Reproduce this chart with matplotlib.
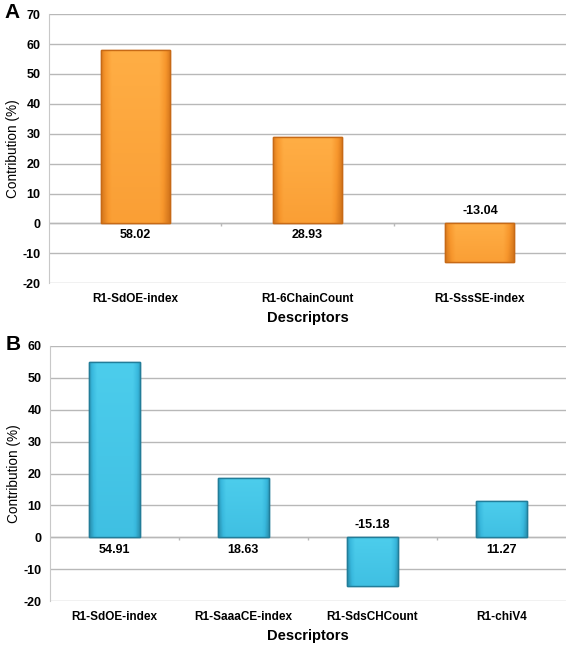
import numpy as np
import matplotlib.pyplot as plt
from matplotlib.colors import LinearSegmentedColormap

plt.rcParams['font.family'] = ['Liberation Sans', 'DejaVu Sans']
plt.rcParams['axes.unicode_minus'] = False

# Panel A data
cats_a = ['R1-SdOE-index', 'R1-6ChainCount', 'R1-SssSE-index']
vals_a = [58.02, 28.93, -13.04]

# Panel B data
cats_b = ['R1-SdOE-index', 'R1-SaaaCE-index', 'R1-SdsCHCount', 'R1-chiV4']
vals_b = [54.91, 18.63, -15.18, 11.27]


def shade(ax, bars, light, mid, dark):
    # soft gradient: darker towards edges and bottom
    cmap = LinearSegmentedColormap.from_list('g', [dark, mid, light])
    xs = np.linspace(-1, 1, 64)
    horiz = 1 - np.clip((np.abs(xs) - 0.7) / 0.3, 0, 1) * 0.6
    vert = np.linspace(0.75, 1.0, 32)
    grad = vert[:, None] * horiz[None, :]
    for b in bars:
        x0, y0 = b.get_x(), b.get_y()
        w, h = b.get_width(), b.get_height()
        im = ax.imshow(grad, cmap=cmap, vmin=0.2, vmax=1.0, aspect='auto',
                       extent=(x0, x0 + w, min(y0, y0 + h), max(y0, y0 + h)),
                       origin='lower', zorder=3, interpolation='bilinear')
        im.set_clip_path(b)


def panel(ax, cats, vals, ylim, letter, light, mid, dark):
    x = np.arange(len(cats))
    bars = ax.bar(x, vals, width=0.4, color=mid, edgecolor=dark, linewidth=1.0, zorder=2)
    shade(ax, bars, light, mid, dark)
    for b in bars:
        ax.add_patch(plt.Rectangle((b.get_x(), b.get_y()), b.get_width(), b.get_height(),
                                   fill=False, edgecolor=dark, linewidth=1.0, zorder=4))
    ax.set_xlim(-0.5, len(cats) - 0.5)
    ax.set_ylim(*ylim)
    ax.set_yticks(np.arange(ylim[0], ylim[1] + 1, 10))
    ax.yaxis.grid(True, color='#b8b8b8', linewidth=1.0)
    ax.set_axisbelow(True)
    ax.axhline(0, color='#b8b8b8', linewidth=1.0, zorder=1)
    ax.vlines(x[:-1] + 0.5, -0.8, 0, color='#b8b8b8', linewidth=1.0, zorder=1)
    for s in ['top', 'right', 'bottom']:
        ax.spines[s].set_visible(False)
    ax.spines['left'].set_color('#c8c8c8')
    ax.tick_params(axis='y', length=0, labelsize=9, pad=6)
    ax.tick_params(axis='x', length=0, labelsize=8.5, pad=7)
    for t in ax.get_yticklabels():
        t.set_fontweight('bold')
    ax.set_xticks(x)
    ax.set_xticklabels(cats, fontweight='bold')
    ax.set_ylabel('Contribution (%)', fontsize=9.8, va='center')
    ax.yaxis.set_label_coords(-0.07, 0.5)
    ax.set_xlabel('Descriptors', fontsize=10.5, fontweight='bold', va='center')
    ax.xaxis.set_label_coords(0.5, -35 / ax.bbox.height)
    for xi, v in zip(x, vals):
        y = -4 if v > 0 else 4
        ax.text(xi, y, f'{v:.2f}', ha='center', va='center', fontsize=9, fontweight='bold')
    ax.text(-0.072, 1.005, letter, transform=ax.transAxes, fontsize=15, fontweight='bold',
            ha='center', va='center')


fig = plt.figure(figsize=(5.67, 6.45), dpi=100)
ax_a = fig.add_axes([0.0864, 0.561, 0.912, 0.417])
ax_b = fig.add_axes([0.088, 0.068, 0.91, 0.3956])

panel(ax_a, cats_a, vals_a, (-20, 70), 'A', '#ffae45', '#f7962c', '#c76a16')
panel(ax_b, cats_b, vals_b, (-20, 60), 'B', '#4ccdec', '#38b8dd', '#227d99')

fig.savefig('out.png', dpi=100)
